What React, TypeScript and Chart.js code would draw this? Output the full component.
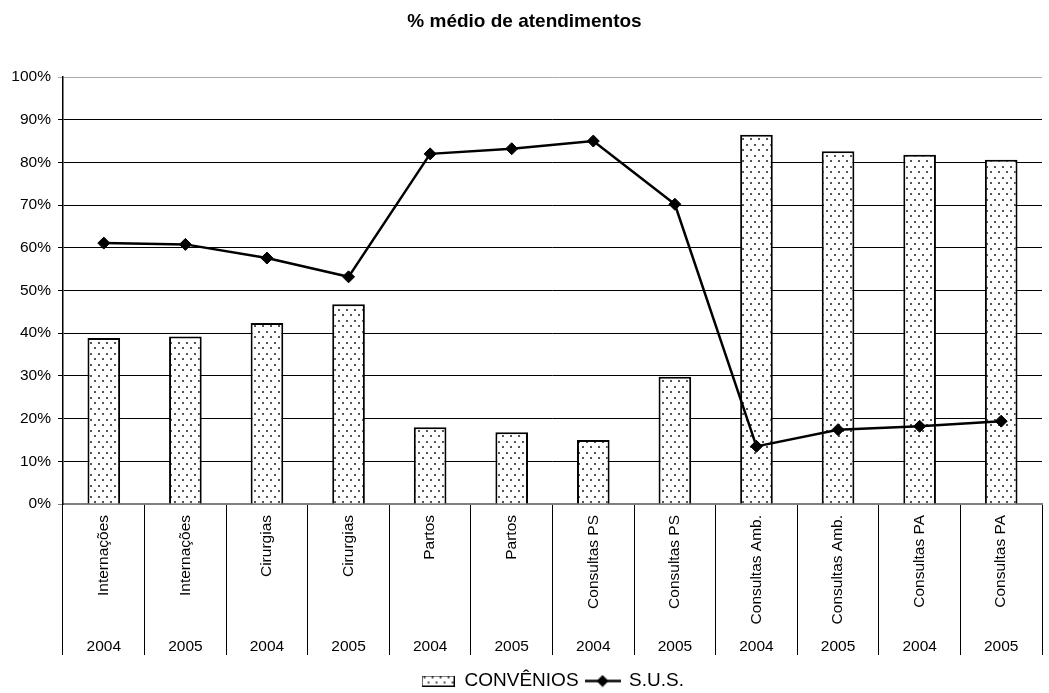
import React, { useEffect, useRef } from 'react';
import { Chart, registerables } from 'chart.js';

Chart.register(...registerables);

const TITLE = '% médio de atendimentos';
const categories = [
  'Internações', 'Internações', 'Cirurgias', 'Cirurgias', 'Partos', 'Partos',
  'Consultas PS', 'Consultas PS', 'Consultas Amb.', 'Consultas Amb.', 'Consultas PA', 'Consultas PA',
];
const years = ['2004', '2005', '2004', '2005', '2004', '2005', '2004', '2005', '2004', '2005', '2004', '2005'];
const conveniosLabel = 'CONVÊNIOS';
const susLabel = 'S.U.S.';
const convenios = [38.9, 39.2, 42.4, 46.8, 18.0, 16.8, 15.0, 29.8, 86.5, 82.6, 81.8, 80.6];
const sus = [61.1, 60.8, 57.6, 53.2, 82.0, 83.2, 85.0, 70.2, 13.5, 17.4, 18.2, 19.4];
const yMin = 0;
const yMax = 100;
const yStep = 10;

const FONT = '"Liberation Sans", Arial, sans-serif';

function makePatternTile(): HTMLCanvasElement {
  const c = document.createElement('canvas');
  c.width = 8;
  c.height = 11;
  const g = c.getContext('2d')!;
  g.fillStyle = '#fff';
  g.fillRect(0, 0, 8, 11);
  g.fillStyle = '#555';
  g.fillRect(2, 1, 2, 2);
  g.fillRect(6, 6, 2, 2);
  return c;
}

export default function App() {
  const ref = useRef<HTMLCanvasElement>(null);

  useEffect(() => {
    const canvas = ref.current!;
    const ctx = canvas.getContext('2d')!;
    const tile = makePatternTile();
    const pattern = ctx.createPattern(tile, 'repeat')!;

    const boxImg = document.createElement('canvas');
    boxImg.width = 33;
    boxImg.height = 11;
    {
      const g = boxImg.getContext('2d')!;
      g.fillStyle = g.createPattern(tile, 'repeat')!;
      g.fillRect(0, 0, 33, 11);
      g.strokeStyle = '#000';
      g.lineWidth = 1;
      g.strokeRect(0.5, 0.5, 32, 10);
    }
    const lineImg = document.createElement('canvas');
    lineImg.width = 36;
    lineImg.height = 13;
    {
      const g = lineImg.getContext('2d')!;
      g.strokeStyle = '#000';
      g.lineWidth = 2.5;
      g.beginPath();
      g.moveTo(0, 6.5);
      g.lineTo(36, 6.5);
      g.stroke();
      g.fillStyle = '#000';
      g.beginPath();
      g.moveTo(18, 0.5);
      g.lineTo(24, 6.5);
      g.lineTo(18, 12.5);
      g.lineTo(12, 6.5);
      g.closePath();
      g.fill();
    }

    const tickFont = { family: FONT, size: 15.5 };

    const chart = new Chart(canvas, {
      type: 'bar',
      data: {
        labels: categories,
        datasets: [
          {
            type: 'bar',
            label: conveniosLabel,
            data: convenios,
            backgroundColor: pattern as any,
            borderColor: '#000',
            borderWidth: 2,
            barPercentage: 0.4,
            categoryPercentage: 1,
            order: 1,
            xAxisID: 'x',
            yAxisID: 'y',
          },
          {
            type: 'line',
            label: susLabel,
            data: sus,
            borderColor: '#000',
            borderWidth: 2.5,
            pointStyle: 'rectRot',
            pointRadius: 6,
            pointBackgroundColor: '#000',
            pointBorderColor: '#000',
            pointBorderWidth: 1,
            tension: 0,
            fill: false,
            order: 0,
            xAxisID: 'x',
            yAxisID: 'y',
          } as any,
        ],
      },
      options: {
        responsive: false,
        animation: false,
        devicePixelRatio: 1,
        layout: { padding: { left: 0, right: 0, top: 0, bottom: -7.5 } },
        plugins: {
          title: {
            display: true,
            text: TITLE,
            color: '#000',
            font: { family: FONT, size: 19, weight: 'bold' },
            padding: { top: 10.5, bottom: 43.7 },
          },
          legend: {
            display: true,
            position: 'bottom',
            fullSize: false,
            labels: {
              usePointStyle: true,
              pointStyleWidth: 34,
              padding: 7,
              color: '#000',
              font: { family: FONT, size: 19 },
              generateLabels: () => [
                { text: conveniosLabel, pointStyle: boxImg as any, datasetIndex: 0, fillStyle: 'transparent', strokeStyle: 'transparent', lineWidth: 0, hidden: false, fontColor: '#000' },
                { text: susLabel, pointStyle: lineImg as any, datasetIndex: 1, fillStyle: 'transparent', strokeStyle: 'transparent', lineWidth: 0, hidden: false, fontColor: '#000' },
              ] as any,
            },
          },
          tooltip: { enabled: false },
        },
        scales: {
          x: {
            type: 'category',
            position: 'bottom',
            weight: 1,
            offset: true,
            grid: { offset: true, drawOnChartArea: false, drawTicks: true, tickLength: 151, color: '#000', lineWidth: 1 },
            border: { display: true, color: '#808080', width: 2 },
            ticks: { autoSkip: false, minRotation: 90, maxRotation: 90, padding: -140, color: '#000', font: tickFont },
            afterFit: (s: any) => { s.height = 120; },
          },
          x2: {
            type: 'category',
            labels: years,
            position: 'bottom',
            weight: 2,
            offset: true,
            grid: { display: false },
            border: { display: false },
            ticks: { autoSkip: false, minRotation: 0, maxRotation: 0, padding: 5, color: '#000', font: tickFont },
            afterFit: (s: any) => { s.height = 40.5; },
          },
          y: {
            min: yMin,
            max: yMax,
            ticks: { stepSize: yStep, padding: 7, color: '#000', font: tickFont, callback: (v: any) => v + '%' },
            grid: { color: (c: any) => (c.tick && c.tick.value === 0 ? '#808080' : c.tick && c.tick.value === yMax ? '#aaa' : '#000'), tickLength: 5, lineWidth: 1 },
            border: { color: '#000', width: 1.5 },
            afterFit: (s: any) => { s.width = 63; },
          },
        } as any,
      },
    });
    return () => chart.destroy();
  }, []);

  return (
    <div style={{ position: 'absolute', left: 0, top: 0, width: 1049, height: 693 }}>
      <canvas ref={ref} width={1049} height={693} style={{ display: 'block' }} />
    </div>
  );
}
